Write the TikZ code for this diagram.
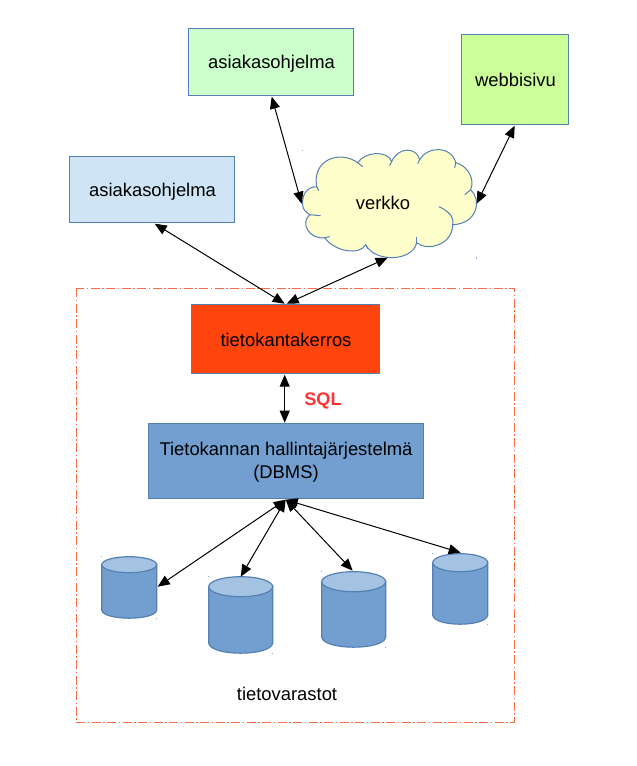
\documentclass[tikz,border=0pt]{standalone}
\usepackage{fontspec}
\setmainfont{Liberation Sans}
\usetikzlibrary{arrows.meta}
\definecolor{edgeblue}{HTML}{5580B4}
\definecolor{dbfill}{HTML}{729FCF}
\definecolor{dbtop}{HTML}{A4C2E2}
\definecolor{dashred}{HTML}{FF6B47}
\definecolor{handleblue}{HTML}{8FAFD4}
\tikzset{
  x=1pt,y=-1pt,
  lbl/.style={font=\fontsize{18.4}{22}\selectfont,text=black,align=center,inner sep=0pt},
  boxline/.style={draw=edgeblue,line width=1.2pt},
  framebox/.style={draw=dashred,line width=0.9pt,dash pattern=on 9pt off 2.5pt on 1.5pt off 2.5pt},
  link/.style={draw=black,line width=1pt,{Triangle[length=12pt,width=10pt]}-{Triangle[length=12pt,width=10pt]}},
  cyl/.style={draw=edgeblue,line width=1.2pt},
  handle/.style={fill=handleblue,draw=none},
  cloudline/.style={draw=edgeblue,line width=1pt}
}
\newcommand{\dbcyl}[5]{% left right topY ry bottomY
  \path[cyl,fill=dbfill] (#1,#3+#4) -- (#1,#5-#4) .. controls (#1+2,#5+#4*0.33) and (#2-2,#5+#4*0.33) .. (#2,#5-#4) -- (#2,#3+#4) -- cycle;
  \path[cyl,fill=dbtop] ({(#1+#2)/2},#3) .. controls ({#1+(#2-#1)*0.22},#3) and (#1,#3+#4*0.45) .. (#1,#3+#4)
     .. controls (#1,#3+#4*1.55) and ({#1+(#2-#1)*0.22},#3+2*#4) .. ({(#1+#2)/2},#3+2*#4)
     .. controls ({#2-(#2-#1)*0.22},#3+2*#4) and (#2,#3+#4*1.55) .. (#2,#3+#4)
     .. controls (#2,#3+#4*0.45) and ({#2-(#2-#1)*0.22},#3) .. ({(#1+#2)/2},#3) -- cycle;
  \fill[handle] (#1-0.6,#3-0.6) rectangle (#1+0.6,#3+0.6);
  \fill[handle] (#2-0.6,#5-0.6) rectangle (#2+0.6,#5+0.6);
}
\begin{document}
\begin{tikzpicture}
\useasboundingbox (0.3,0.3) rectangle (637.3,766.3);
\fill[white] (0.3,0.3) rectangle (637.3,766.3);

% dashed frame
\path[framebox] (76.3,288.3) rectangle (514.3,722.3);

% boxes
\path[boxline,fill={rgb,255:red,204;green,255;blue,204}] (189,29) rectangle (354,96);
\node[lbl] (client1) at (271.8,64) {asiakasohjelma};
\path[boxline,fill={rgb,255:red,204;green,255;blue,153}] (462,35) rectangle (569,125);
\node[lbl] (web) at (515.8,80.6) {webbisivu};
\path[boxline,fill={rgb,255:red,207;green,229;blue,245}] (70,157) rectangle (235,223);
\node[lbl] (client2) at (152.8,192) {asiakasohjelma};
\path[boxline,fill={rgb,255:red,255;green,68;blue,14}] (192,305) rectangle (380,374);
\node[lbl] (layer) at (286.3,340) {tietokantakerros};
\path[boxline,fill=dbfill] (149,424) rectangle (424,499);
\node[lbl,font=\fontsize{18.4}{23}\selectfont] (dbms) at (286.3,462.6) {Tietokannan hallintajärjestelmä\\(DBMS)};

% cloud, traced in pixels
\path[cloudline,fill={rgb,255:red,255;green,255;blue,204}]
 (303,205) .. controls (302,194) and (308,187) .. (317,187)
 .. controls (312,160) and (340,150) .. (358,163)
 .. controls (365,152) and (388,150) .. (392,162)
 .. controls (398,147) and (417,147) .. (420,160)
 .. controls (428,146) and (452,146) .. (456,163)
 .. controls (466,165) and (476,178) .. (471,190)
 .. controls (482,200) and (478,224) .. (453,225)
 .. controls (453,245) and (428,252) .. (417,243)
 .. controls (413,262) and (375,263) .. (366,245)
 .. controls (360,256) and (335,252) .. (325,238)
 .. controls (310,240) and (300,224) .. (310,215)
 .. controls (306,212) and (303,210) .. (303,205) -- cycle;
\draw[cloudline] (317,187) -- (319,191);
\draw[cloudline] (358,163) -- (363,167);
\draw[cloudline] (392,162) -- (390,166);
\draw[cloudline] (420,160) -- (418,164);
\draw[cloudline] (456,163) -- (455,168);
\draw[cloudline] (471,190) -- (465,195);
\draw[cloudline] (439,207) .. controls (447,210) and (455,217) .. (453,225);
\draw[cloudline] (417,243) -- (417,237);
\draw[cloudline] (366,245) -- (368,249);
\draw[cloudline] (325,238) -- (330,237);
\draw[cloudline] (310,215) -- (321,216);
\node[lbl] (net) at (383.3,203.5) {verkko};

% named connector ends
\coordinate (a1) at (272,97);  \coordinate (a2) at (302,204);
\coordinate (b1) at (515,126); \coordinate (b2) at (477,204);
\coordinate (c1) at (155,224); \coordinate (c2) at (285,304);
\coordinate (d1) at (388,258); \coordinate (d2) at (287,304);
\coordinate (e1) at (285,375); \coordinate (e2) at (285,423);
\coordinate (f0) at (286,500);
\coordinate (f1) at (158,587); \coordinate (f2) at (241,577);
\coordinate (f3) at (353,571); \coordinate (f4) at (461,553);

% cylinders
\dbcyl{102}{157}{557}{8}{618.5}
\dbcyl{209}{273}{577}{10}{653.5}
\dbcyl{322}{386}{572}{10}{647.5}
\dbcyl{433}{488}{554}{9}{624.5}
\fill[handle] (302.4,150.4) rectangle (303.6,151.6);
\fill[handle] (476.4,257.6) rectangle (477.6,258.8);

% connectors
\draw[link] (a1) -- (a2);
\draw[link] (b1) -- (b2);
\draw[link] (c1) -- (c2);
\draw[link] (d1) -- (d2);
\draw[link] (e1) -- (e2);
\draw[link] (f0) -- (f1);
\draw[link] (f0) -- (f2);
\draw[link] (f0) -- (f3);
\draw[link] (f0) -- (f4);

\node[lbl,font=\fontsize{18.2}{21}\bfseries\selectfont,text={rgb,255:red,255;green,51;blue,51}] (sql) at (323.3,401.6) {SQL};
\node[lbl,font=\fontsize{18.4}{21}\selectfont] (stores) at (287.3,694.6) {tietovarastot};
\end{tikzpicture}
\end{document}
